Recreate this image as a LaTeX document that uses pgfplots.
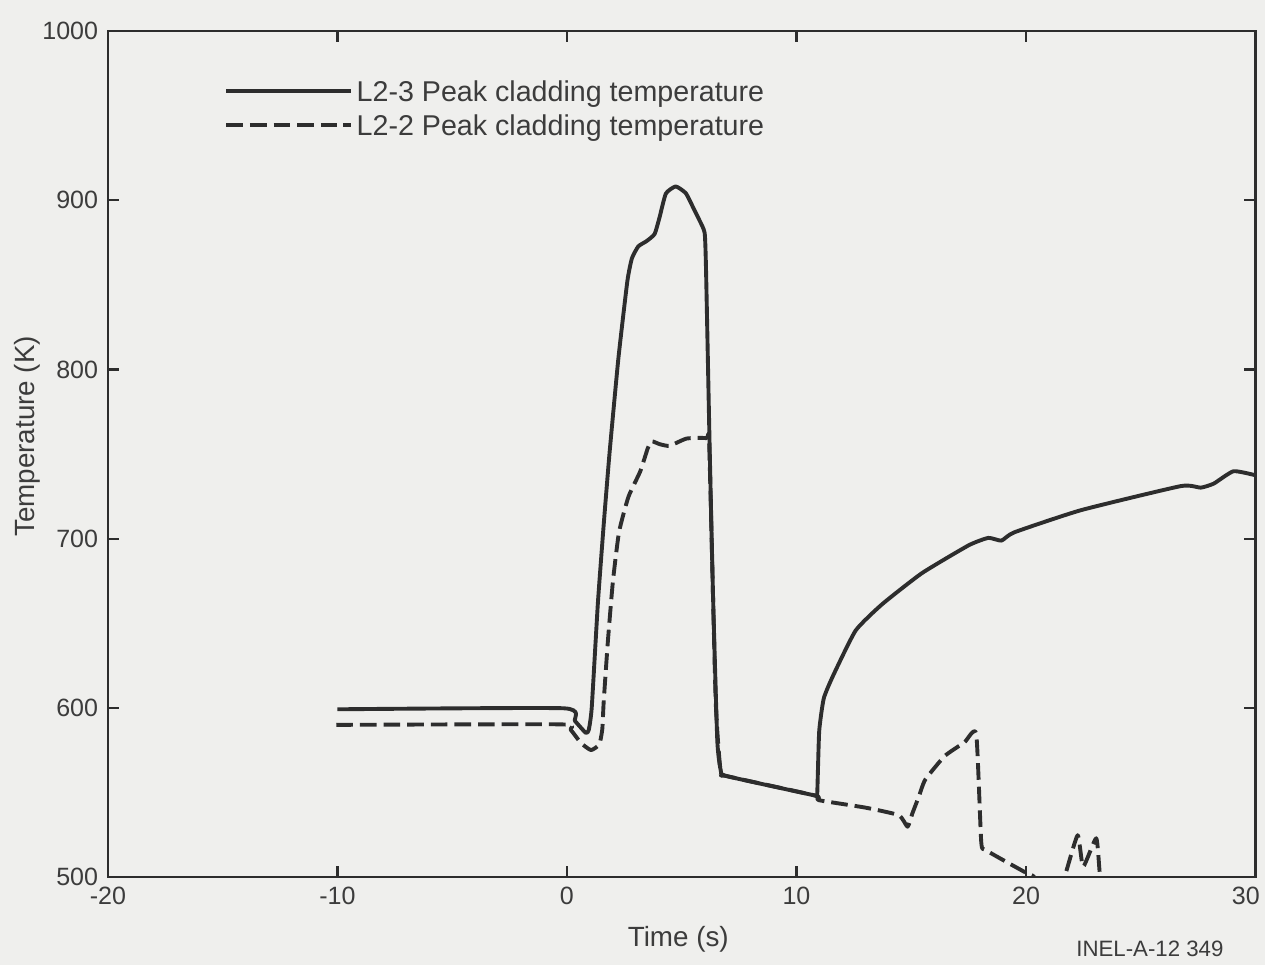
\documentclass[border=0pt]{standalone}
\usepackage{fontspec}
\setmainfont{Liberation Sans}
\usepackage{pgfplots}
\pgfplotsset{compat=1.18}
\definecolor{bg}{RGB}{239,239,237}
\definecolor{ink}{RGB}{45,45,45}
\definecolor{txt}{RGB}{60,60,60}
\begin{document}
\begin{tikzpicture}
\useasboundingbox (-38.8pt,-31.7pt) rectangle (416.2pt,315.5pt);
\fill[bg] (-38.8pt,-31.7pt) rectangle (416.2pt,315.5pt);
\begin{axis}[
  scale only axis, width=412.8pt, height=304.3pt,
  anchor=south west, at={(0pt,0pt)},
  xmin=-20, xmax=30, ymin=500, ymax=1000,
  xtick={-20,-10,0,10,20}, xticklabels={-20,-10,0,10,20},
  extra x ticks={30}, extra x tick labels={30},
  extra x tick style={xticklabel style={xshift=-3.5pt}},
  ytick={500,600,700,800,900,1000}, yticklabels={500,600,700,800,900,1000},
  tick align=inside, major tick length=4pt,
  tick style={color=ink, line width=0.8pt},
  axis line style={color=ink, line width=0.8pt},
  ticklabel style={font=\fontsize{9}{10}\selectfont, text=txt},
  xlabel={Time (s)}, ylabel={Temperature (K)},
  label style={font=\fontsize{10}{12}\selectfont, text=txt},
  xlabel style={at={(axis description cs:0.497,0)}, anchor=center, yshift=-22.3pt},
  ylabel style={at={(axis description cs:0,0.521)}, anchor=center, yshift=29.1pt},
  legend style={at={(axis description cs:0.101,0.946)}, anchor=north west,
    draw=none, fill=none, inner sep=0pt, row sep=0pt,
    font=\fontsize{10.3}{12}\selectfont, text=txt,
    nodes={text height=7.5pt, text depth=2.2pt, inner sep=1.2pt}},
  legend cell align=left,
  legend image code/.code={\draw[#1] (0pt,1pt) -- (42pt,1pt); \path (42pt,1pt) -- (45pt,1pt);},
  clip=true,
]
\addplot[ink, line width=1.4pt, line join=round, smooth, tension=0.3] coordinates {
(-10.0,599.2) (-0.14,599.8) (0.35,592.3) (0.82,585.3) (0.95,587) (1.08,600.2)
(1.35,662.4) (1.61,709.8) (1.86,751.3) (2.24,806.4) (2.63,852.0) (2.83,865.7)
(3.11,872.8) (3.47,875.9) (3.82,880.1) (4.03,889.7) (4.31,904.0) (4.74,908.2)
(5.18,904.2) (5.49,896.0) (5.77,888.3) (6.0,880.7) (6.06,858.8) (6.22,752.4)
(6.37,663.6) (6.55,580.8) (6.7,563.2) (6.97,559.7) (10.82,548.2) (10.9,547.7)
(10.99,586.2) (11.19,605.7) (11.61,619.5) (12.58,645.8) (13.74,661.4) (15.47,679.7)
(17.5,696.1) (18.36,700.5) (18.93,698.9) (19.49,703.8) (22.4,716.9) (26.74,731.1)
(27.61,730.2) (28.18,732.6) (29.04,739.9) (30.0,737.5)
};
\addlegendentry{L2-3 Peak cladding temperature}
\addplot[ink, line width=1.4pt, line join=round, dash pattern=on 6pt off 2.5pt, smooth, tension=0.3] coordinates {
(-10.05,590.0) (-0.28,590.3) (0.16,587.1) (0.61,579.3) (1.05,575.1) (1.41,578.5)
(1.54,587.4) (1.6,603.3) (1.78,638.8) (2.0,674.4) (2.27,704.0) (2.68,724.8)
(3.19,739.7) (3.52,753.4) (3.69,757.6) (4.04,755.9) (4.47,754.9) (5.21,759.2)
(6.08,759.4) (6.2,755) (6.48,604.5) (6.7,562) (6.97,559.7) (10.82,548.2)
(10.97,545.5) (13.0,541.1) (14.46,536.6) (14.84,529.8) (15.05,537.7) (15.33,547.6)
(15.61,557.6) (16.46,571.6) (17.32,579.7) (17.83,584.8) (18.05,520.7) (18.26,515.9)
(19.88,503.5) (20.32,500.6) (20.6,496) (21.5,496) (21.7,501) (22.25,524.8)
(22.49,506.2) (23.06,523.0) (23.22,501.4) (23.4,496)
};
\addlegendentry{L2-2 Peak cladding temperature}
\end{axis}
\node[font=\fontsize{8}{9}\selectfont, text=txt] at (374.8pt,-25.9pt) {INEL-A-12 349};
\end{tikzpicture}
\end{document}
